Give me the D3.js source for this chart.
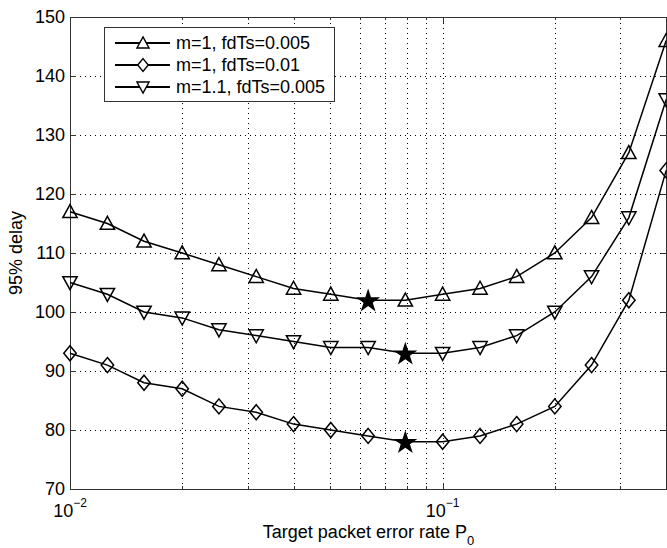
<!DOCTYPE html>
<html>
<head>
<meta charset="utf-8">
<script src="https://cdn.jsdelivr.net/npm/d3@7"></script>
<style>
  body { margin: 0; background: #fff; }
  text { font-family: "Liberation Sans", Arial, sans-serif; fill: #000; }
</style>
</head>
<body>
<script>
var width = 667,
    height = 548,
    margin = {top: 17, right: 0, bottom: 59, left: 70};

// target packet error rate P0 (log spaced)
var pRates = [0.01, 0.0126, 0.0158, 0.02, 0.0251, 0.0316, 0.0398, 0.0501, 0.0631,
              0.0794, 0.1, 0.126, 0.158, 0.2, 0.251, 0.316, 0.398];

// 95% delay per series
var delayM1Fd005 = [117, 115, 112, 110, 108, 106, 104, 103, 102, 102, 103, 104, 106, 110, 116, 127, 146];
var delayM1Fd01  = [93, 91, 88, 87, 84, 83, 81, 80, 79, 78, 78, 79, 81, 84, 91, 102, 124];
var delayM11Fd005 = [105, 103, 100, 99, 97, 96, 95, 94, 94, 93, 93, 94, 96, 100, 106, 116, 136];

var seriesNames = ["m=1, fdTs=0.005", "m=1, fdTs=0.01", "m=1.1, fdTs=0.005"];
var seriesMarkers = ["up", "diamond", "down"];
// index of the minimum (star) on each series
var optimumIndex = [8, 9, 9];

var yTicks = [70, 80, 90, 100, 110, 120, 130, 140, 150];
var xGrid = [0.02, 0.03, 0.04, 0.05, 0.06, 0.07, 0.08, 0.09, 0.1, 0.2, 0.3, 0.4];
var xMinor = [0.02, 0.03, 0.04, 0.05, 0.06, 0.07, 0.08, 0.09, 0.2, 0.3];
var xMajor = [{v: 0.01, exp: "\u22122"}, {v: 0.1, exp: "\u22121"}];

var series = [delayM1Fd005, delayM1Fd01, delayM11Fd005].map(function(vals, i) {
  return {
    name: seriesNames[i],
    marker: seriesMarkers[i],
    star: optimumIndex[i],
    points: vals.map(function(v, j) { return {p: pRates[j], d: v, i: j}; })
  };
});

var x = d3.scaleLog()
    .domain([0.01, 0.4])
    .range([margin.left, width - margin.right]);

var y = d3.scaleLinear()
    .domain([70, 150])
    .range([height - margin.bottom, margin.top]);

var svg = d3.select("body").append("svg")
    .attr("width", width)
    .attr("height", height);

var x0 = x.range()[0], x1 = x.range()[1], yB = y.range()[0], yT = y.range()[1];

// dotted grid
var grid = svg.append("g")
    .attr("stroke", "#000")
    .attr("stroke-width", 1)
    .attr("stroke-dasharray", "1,4");

grid.selectAll("line.gx")
  .data(xGrid)
  .enter().append("line")
    .attr("class", "gx")
    .attr("x1", function(d) { return Math.round(x(d)) + 0.5; })
    .attr("x2", function(d) { return Math.round(x(d)) + 0.5; })
    .attr("y1", yB)
    .attr("y2", yT);

grid.selectAll("line.gy")
  .data(yTicks.slice(1, -1))
  .enter().append("line")
    .attr("class", "gy")
    .attr("x1", x0)
    .attr("x2", x1)
    .attr("y1", function(d) { return Math.round(y(d)) + 0.5; })
    .attr("y2", function(d) { return Math.round(y(d)) + 0.5; });

// frame
svg.append("rect")
    .attr("x", x0 + 0.5)
    .attr("y", yT + 0.5)
    .attr("width", x1 - x0 - 1)
    .attr("height", yB - yT)
    .attr("fill", "none")
    .attr("stroke", "#333")
    .attr("stroke-width", 1);

// ticks, pointing inward (matlab style)
var ticks = svg.append("g").attr("stroke", "#333").attr("stroke-width", 1);

yTicks.forEach(function(t) {
  var yy = Math.round(y(t)) + 0.5;
  ticks.append("line").attr("x1", x0).attr("x2", x0 + 6).attr("y1", yy).attr("y2", yy);
  ticks.append("line").attr("x1", x1 - 6).attr("x2", x1).attr("y1", yy).attr("y2", yy);
});
xMinor.forEach(function(t) {
  var xx = Math.round(x(t)) + 0.5;
  ticks.append("line").attr("x1", xx).attr("x2", xx).attr("y1", yB).attr("y2", yB - 3);
  ticks.append("line").attr("x1", xx).attr("x2", xx).attr("y1", yT).attr("y2", yT + 3);
});
xMajor.forEach(function(t) {
  var xx = Math.round(x(t.v)) + 0.5;
  ticks.append("line").attr("x1", xx).attr("x2", xx).attr("y1", yB).attr("y2", yB - 6);
  ticks.append("line").attr("x1", xx).attr("x2", xx).attr("y1", yT).attr("y2", yT + 6);
});

// tick labels
svg.append("g").selectAll("text")
  .data(yTicks)
  .enter().append("text")
    .attr("x", x0 - 5)
    .attr("y", function(d) { return y(d) + 6; })
    .attr("text-anchor", "end")
    .style("font-size", "18px")
    .text(function(d) { return d; });

var xl = svg.append("g").selectAll("text")
  .data(xMajor)
  .enter().append("text")
    .attr("x", function(d) { return x(d.v); })
    .attr("y", yB + 28)
    .attr("text-anchor", "middle")
    .style("font-size", "18px");
xl.append("tspan").text("10");
xl.append("tspan").attr("dy", -10).style("font-size", "12px").text(function(d) { return d.exp; });

// axis titles
svg.append("text")
    .attr("transform", "translate(" + 22 + "," + ((yT + yB) / 2) + ") rotate(-90)")
    .attr("text-anchor", "middle")
    .style("font-size", "18px")
    .text("95% delay");

var xt = svg.append("text")
    .attr("x", (x0 + x1) / 2)
    .attr("y", 538)
    .attr("text-anchor", "middle")
    .style("font-size", "18px");
xt.append("tspan").text("Target packet error rate P");
xt.append("tspan").attr("dy", 7).style("font-size", "13px").text("0");

// lines
var line = d3.line()
    .x(function(d) { return x(d.p); })
    .y(function(d) { return y(d.d); });

var plot = svg.append("g");

plot.selectAll("path.series")
  .data(series)
  .enter().append("path")
    .attr("class", "series")
    .attr("d", function(d) { return line(d.points); })
    .attr("fill", "none")
    .attr("stroke", "#000")
    .attr("stroke-width", 1.5);

function markerPath(type, s) {
  if (type === "up") return "M0," + (-s * 0.55) + "L" + (s * 0.55) + "," + (s * 0.45) + "L" + (-s * 0.55) + "," + (s * 0.45) + "Z";
  if (type === "down") return "M0," + (s * 0.55) + "L" + (s * 0.55) + "," + (-s * 0.45) + "L" + (-s * 0.55) + "," + (-s * 0.45) + "Z";
  return "M0," + (-s * 0.58) + "L" + (s * 0.48) + ",0L0," + (s * 0.58) + "L" + (-s * 0.48) + ",0Z";
}

series.forEach(function(s) {
  plot.append("g").selectAll("path")
    .data(s.points.filter(function(d) { return d.i !== s.star; }))
    .enter().append("path")
      .attr("transform", function(d) { return "translate(" + x(d.p) + "," + y(d.d) + ")"; })
      .attr("d", markerPath(s.marker, 13))
      .attr("fill", "none")
      .attr("stroke", "#000")
      .attr("stroke-width", 1.5);

  var sp = s.points[s.star];
  plot.append("path")
    .attr("transform", "translate(" + x(sp.p) + "," + (y(sp.d) + 1) + ")")
    .attr("d", d3.symbol().type(d3.symbolStar).size(180)())
    .attr("fill", "#000");
});

// legend
var legend = svg.append("g");
legend.append("rect")
    .attr("x", 104.5)
    .attr("y", 27.5)
    .attr("width", 230)
    .attr("height", 74)
    .attr("fill", "#fff")
    .attr("stroke", "#333")
    .attr("stroke-width", 1);

var items = legend.selectAll("g.item")
  .data(series)
  .enter().append("g")
    .attr("class", "item")
    .attr("transform", function(d, i) { return "translate(0," + (43 + i * 22) + ")"; });

items.append("line")
    .attr("x1", 115).attr("x2", 170)
    .attr("stroke", "#000").attr("stroke-width", 2);
items.append("path")
    .attr("transform", "translate(143,0)")
    .attr("d", function(d) { return markerPath(d.marker, 11); })
    .attr("fill", "#fff")
    .attr("stroke", "#000")
    .attr("stroke-width", 1.4);
items.append("text")
    .attr("x", 176)
    .attr("y", 6)
    .style("font-size", "18px")
    .text(function(d) { return d.name; });
</script>
</body>
</html>
